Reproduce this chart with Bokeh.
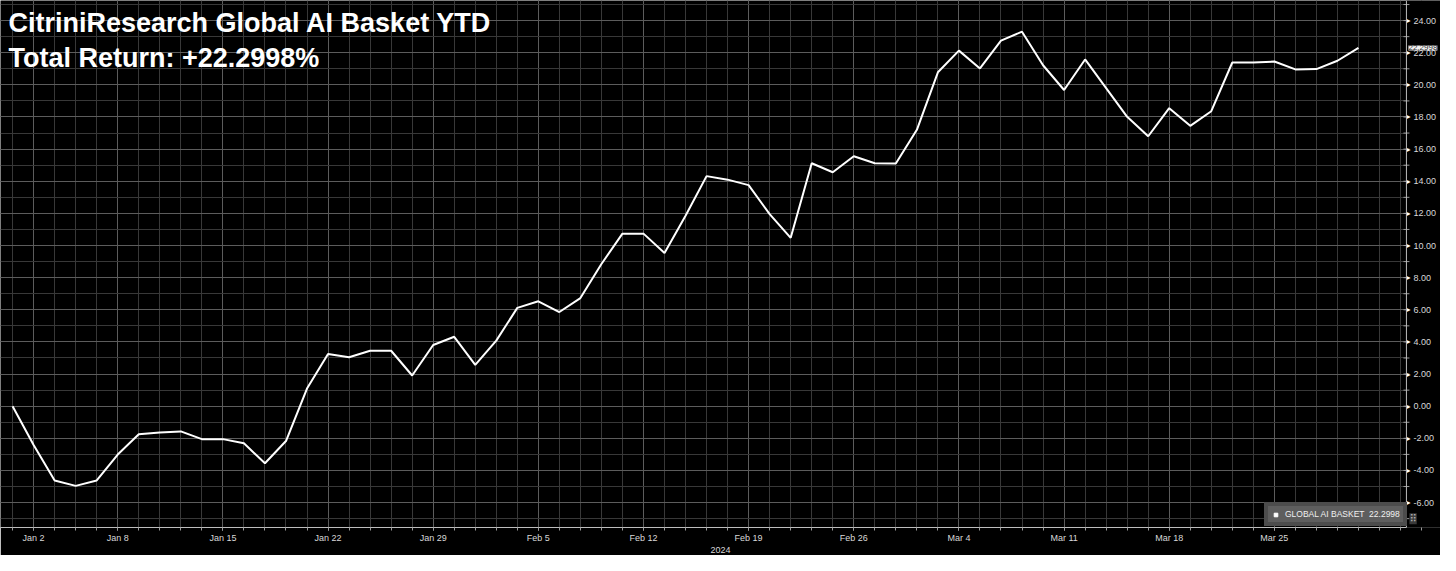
import pandas as pd
from bokeh.plotting import figure
from bokeh.models import (FixedTicker, Label, Legend, LegendItem, Range1d,
                          BoxAnnotation, Span)
from bokeh.core.properties import value
from bokeh.embed import file_html
from bokeh.resources import INLINE

# ---------------- data ----------------
title_line1 = "CitriniResearch Global AI Basket YTD"
title_line2 = "Total Return: +22.2998%"
series_name = "GLOBAL AI BASKET"
last_value_text = "22.2998"
year_label = "2024"

# trading days shown (weekdays, 2024-01-01 .. 2024-03-29)
dates = list(pd.bdate_range("2024-01-01", "2024-03-29"))

# cumulative total return, %
returns = [
    0.00, -2.41, -4.62, -4.96, -4.62, -3.01, -1.75, -1.63, -1.57, -2.05,
    -2.05, -2.31, -3.55, -2.17, 1.10, 3.25, 3.05, 3.45, 3.45, 1.91,
    3.81, 4.32, 2.57, 4.08, 6.12, 6.53, 5.86, 6.73, 8.85, 10.74,
    10.74, 9.54, 11.85, 14.32, 14.10, 13.76, 11.95, 10.48, 15.12, 14.56,
    15.56, 15.12, 15.10, 17.20, 20.78, 22.13, 21.02, 22.75, 23.31, 21.22,
    19.68, 21.58, 19.80, 18.01, 16.80, 18.55, 17.45, 18.36, 21.39, 21.39,
    21.45, 20.96, 20.98, 21.50, 22.2998,
]

x_tick_dates = ["2024-01-02", "2024-01-08", "2024-01-15", "2024-01-22",
                "2024-01-29", "2024-02-05", "2024-02-12", "2024-02-19",
                "2024-02-26", "2024-03-04", "2024-03-11", "2024-03-18",
                "2024-03-25"]
x_tick_labels = ["Jan 2", "Jan 8", "Jan 15", "Jan 22", "Jan 29", "Feb 5",
                 "Feb 12", "Feb 19", "Feb 26", "Mar 4", "Mar 11", "Mar 18",
                 "Mar 25"]

y_major_ticks = [-6, -4, -2, 0, 2, 4, 6, 8, 10, 12, 14, 16, 18, 20, 22, 24]
y_minor_ticks = list(range(-7, 26))

# ---------------- build ----------------
x = list(range(len(dates)))
date_str = [d.strftime("%Y-%m-%d") for d in dates]
x_major = [date_str.index(d) for d in x_tick_dates]
x_minor = list(range(-1, len(dates) + 4))

X_START, X_AXIS, X_END = -0.575, 66.28, 67.9   # X_AXIS: value-axis position
Y_START, Y_END = -7.55, 25.25

FONT = "Liberation Sans"
AXIS_COL = "#bdbdbd"
LABEL_COL = "#d8d8d8"

p = figure(width=1440, height=555, output_backend="svg", toolbar_location=None,
           x_range=Range1d(X_START, X_END), y_range=Range1d(Y_START, Y_END),
           y_axis_location=None,
           background_fill_color="black", border_fill_color="black",
           min_border_left=0, min_border_top=0, min_border_right=0,
           min_border_bottom=0)
p.outline_line_color = None

xt = FixedTicker(ticks=x_major, minor_ticks=x_minor)
yt = FixedTicker(ticks=y_major_ticks, minor_ticks=y_minor_ticks)

# ---- bottom (date) axis
xa = p.xaxis[0]
xa.ticker = xt
xa.bounds = (X_START, X_AXIS)
xa.major_label_overrides = {i: lab for i, lab in zip(x_major, x_tick_labels)}
xa.axis_line_color = AXIS_COL
xa.major_tick_line_color = AXIS_COL
xa.minor_tick_line_color = "#9a9a9a"
xa.major_tick_in = 0
xa.minor_tick_in = 0
xa.major_tick_out = 3
xa.minor_tick_out = 3
xa.major_label_text_color = LABEL_COL
xa.major_label_text_font = FONT
xa.major_label_text_font_size = "9px"
xa.major_label_standoff = 2
xa.axis_label = year_label
xa.axis_label_text_font = FONT
xa.axis_label_text_font_size = "9px"
xa.axis_label_text_font_style = "normal"
xa.axis_label_text_color = LABEL_COL
xa.axis_label_standoff = 1

# ---- grids
p.xgrid.ticker = xt
p.ygrid.ticker = yt
for g in (p.xgrid[0], p.ygrid[0]):
    g.grid_line_color = "#5c5c5c"
    g.grid_line_width = 1
    g.minor_grid_line_color = "#383838"
    g.minor_grid_line_width = 1

# mask the grid to the right of the value axis
p.add_layout(BoxAnnotation(left=X_AXIS, fill_color="black", fill_alpha=1.0,
                           line_alpha=0, level="underlay"))

# ---- right (value) axis drawn in the frame
p.add_layout(Span(location=X_AXIS, dimension="height", line_color=AXIS_COL,
                  line_width=1))
p.scatter([X_AXIS] * len(y_minor_ticks), y_minor_ticks, marker="dash", size=6,
          line_color="#9a9a9a", line_width=1)
p.text([X_AXIS] * len(y_major_ticks), y_major_ticks,
       text=["\u25b8"] * len(y_major_ticks), text_font=value("DejaVu Sans"),
       text_font_size="8px", text_color="white", text_baseline="middle",
       text_align="left", x_offset=0)
p.text([X_AXIS] * len(y_major_ticks), y_major_ticks,
       text=[f"{v:.2f}" for v in y_major_ticks], text_font=value(FONT),
       text_font_size="9px", text_color=LABEL_COL, text_baseline="middle",
       text_align="left", x_offset=7)

# ---- series
p.line(x, returns, line_color="white", line_width=2)

# titles
p.add_layout(Label(x=X_START, x_offset=8, y=23.85, text=title_line1,
                   text_font=FONT, text_font_size="27px",
                   text_font_style="bold", text_color="white",
                   text_baseline="alphabetic"))
p.add_layout(Label(x=X_START, x_offset=8, y=21.65, text=title_line2,
                   text_font=FONT, text_font_size="27px",
                   text_font_style="bold", text_color="white",
                   text_baseline="alphabetic"))

# last value tag on the value axis
p.add_layout(Label(x=X_AXIS, y=returns[-1], x_offset=2, text=last_value_text,
                   text_font=FONT, text_font_size="8px",
                   text_color="#333333", text_baseline="middle",
                   background_fill_color="#f2f2f2", background_fill_alpha=1.0))

# legend grip
p.add_layout(Label(x=X_AXIS, y=-7.0, x_offset=3, text="\u283f",
                   text_font="DejaVu Sans", text_font_size="10px",
                   text_color="#b0b0b0", text_baseline="middle",
                   background_fill_color="#3a3a3a",
                   background_fill_alpha=1.0))

# legend
sq = p.scatter(x=[-50], y=[0], marker="square", size=12, fill_color="white",
               line_color="white")
legend = Legend(items=[LegendItem(label=f"{series_name}  {last_value_text}",
                                  renderers=[sq])],
                location=(1264, 1), background_fill_color="#5e5e5e",
                background_fill_alpha=1.0, border_line_color="#3a3a3a",
                border_line_width=4, label_text_color="#f0f0f0",
                label_text_font=FONT, label_text_font_size="8.5px",
                glyph_width=9, glyph_height=9, label_height=9, padding=3,
                margin=0, spacing=0, label_standoff=5)
p.add_layout(legend)

open("out.html", "w").write(file_html(p, INLINE))
